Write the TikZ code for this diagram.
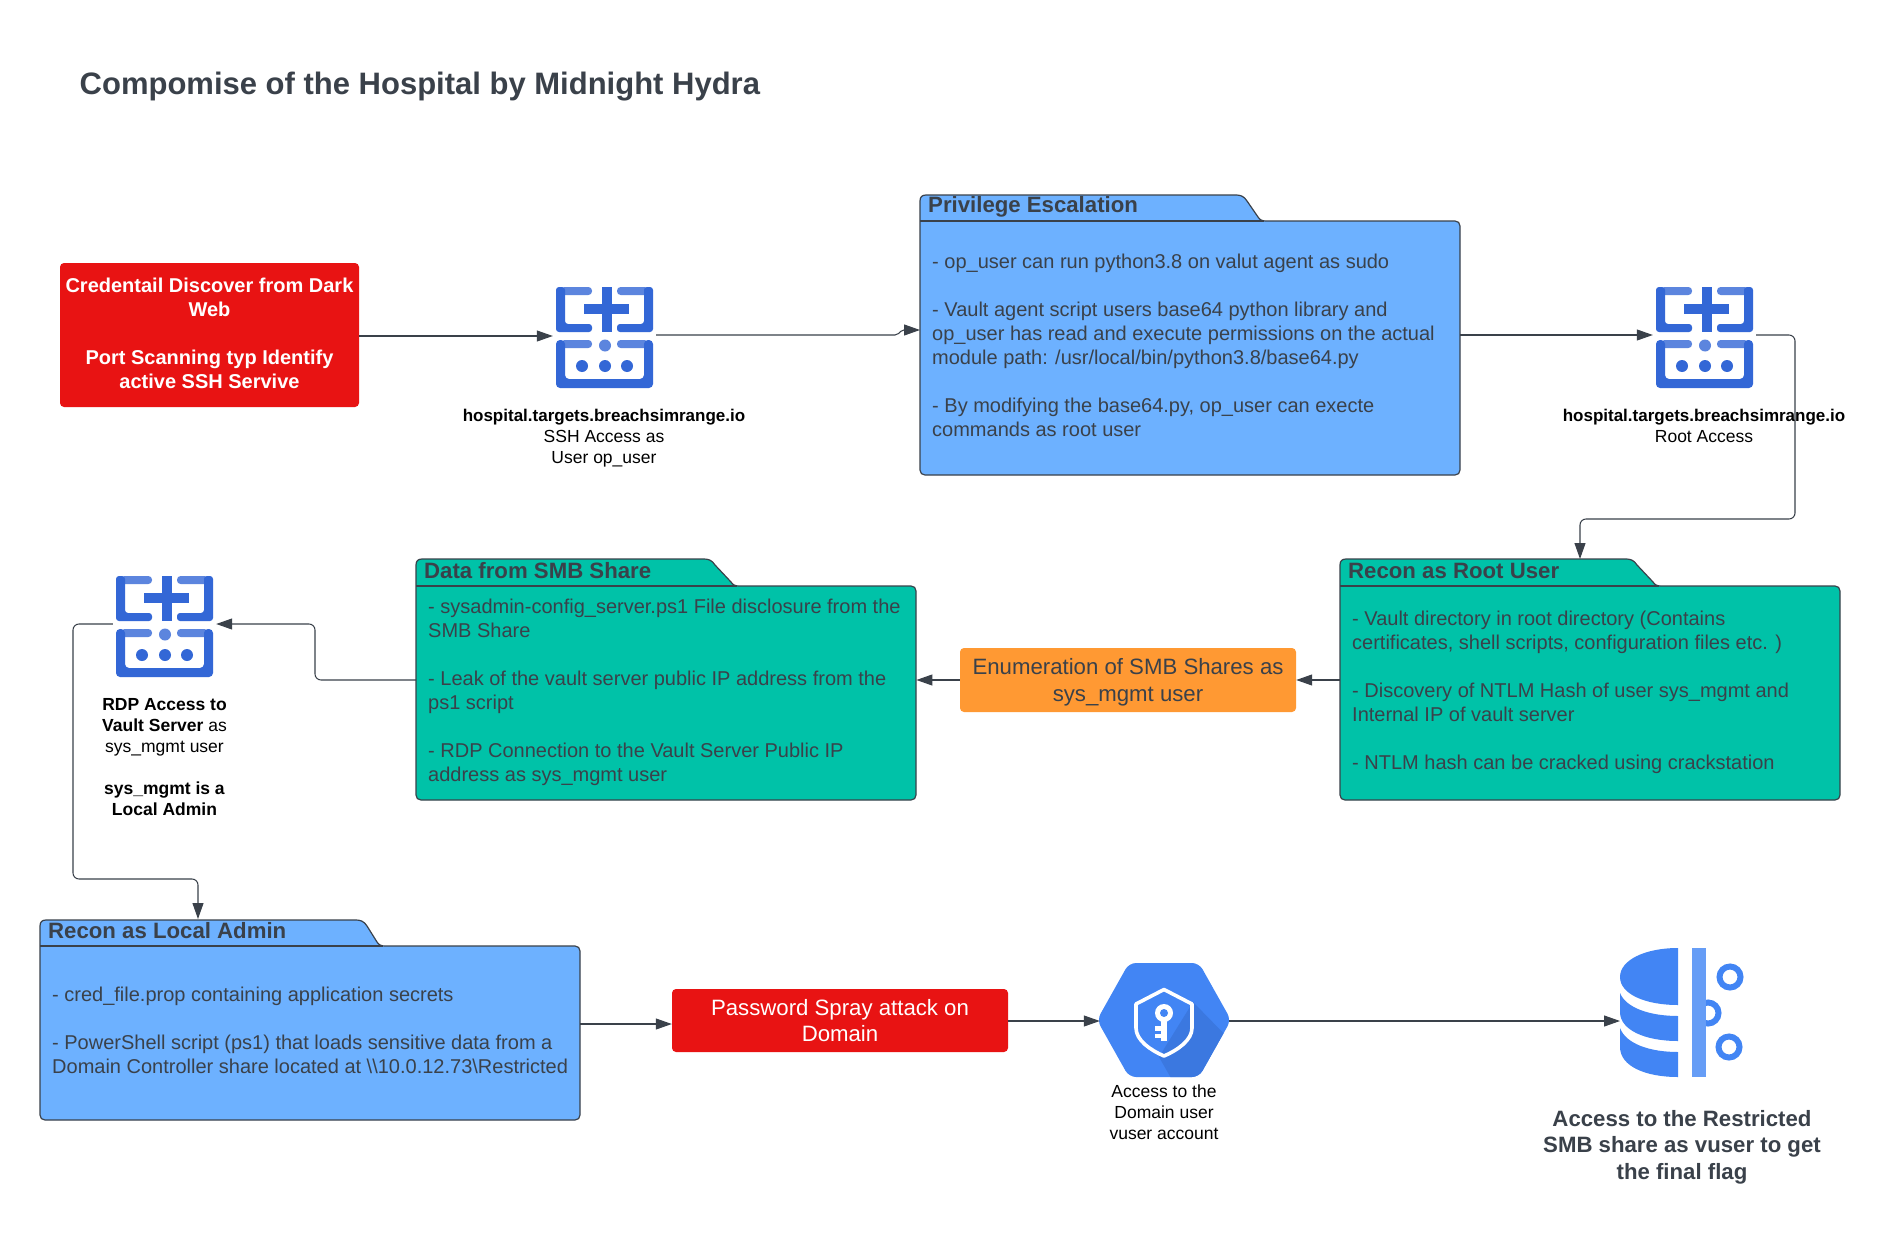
\documentclass[tikz,border=0pt]{standalone}
\usepackage{fontspec}
\setmainfont{Liberation Sans}
\usetikzlibrary{arrows.meta}
\definecolor{ink}{HTML}{3A414A}
\definecolor{fblue}{HTML}{6DB1FF}
\definecolor{fgreen}{HTML}{00C2A8}
\definecolor{fred}{HTML}{E81313}
\definecolor{forange}{HTML}{FF9933}
\definecolor{srv}{HTML}{3367D6}
\definecolor{srvl}{HTML}{5C85DE}
\definecolor{gblue}{HTML}{4285F4}
\definecolor{gdark}{HTML}{3B78E0}
\definecolor{glight}{HTML}{669DF6}
\newcommand{\fsz}[2]{\fontsize{#1}{#2}\selectfont}
% folder: x1, tabtop, bodytop, x2, bottom, tab start, tab end, fill
\newcommand{\folderbox}[8]{%
  \draw[ink,line width=1.2pt,fill=#8,line join=round]
    (#1,#3+0) -- (#1,#2+6) .. controls (#1,#2+2) and (#1+2,#2) .. (#1+6,#2)
    -- (#6-6,#2) .. controls (#6-2,#2) and (#6+2,#2+1) .. (#6+5,#2+6)
    -- (#7-6,#3-4) .. controls (#7-4,#3-1) and (#7-2,#3) .. (#7+2,#3)
    -- (#4-5,#3) .. controls (#4-2,#3) and (#4,#3+2) .. (#4,#3+5)
    -- (#4,#5-5) .. controls (#4,#5-2) and (#4-2,#5) .. (#4-5,#5)
    -- (#1+5,#5) .. controls (#1+2,#5) and (#1,#5-2) .. (#1,#5-5) -- cycle;
  \draw[ink,line width=1.2pt] (#1,#3) -- (#7,#3);}
\newcommand{\srvicon}[1]{%
  \begin{scope}[shift={(#1)}]
    \fill[srvl,rounded corners=3.6pt] (5,0) rectangle (36,8);
    \fill[srvl,rounded corners=3.6pt] (61,0) rectangle (92,8);
    \fill[srvl,rounded corners=3.6pt] (5,53) rectangle (36,61);
    \fill[srvl,rounded corners=3.6pt] (61,53) rectangle (92,61);
    \fill[srv,rounded corners=3pt] (9,0) -- (0,0) -- (0,45) -- (36,45) -- (36,37) -- (9,37) -- cycle;
    \fill[srv,rounded corners=3pt] (88,0) -- (97,0) -- (97,45) -- (61,45) -- (61,37) -- (88,37) -- cycle;
    \fill[srv] (28,17) rectangle (73,27);
    \fill[srv] (46,0) rectangle (55.5,44.5);
    \fill[srv,rounded corners=4pt] (9,53) -- (0,53) -- (0,101) -- (97,101) -- (97,53) -- (88,53) -- (88,92) -- (9,92) -- cycle;
    \fill[srvl] (49,58.5) circle (6);
    \fill[srv] (26,79) circle (6);
    \fill[srv] (49,79) circle (6);
    \fill[srv] (71,79) circle (6);
  \end{scope}}
\tikzset{
  conn/.style={ink,line width=1.05pt,rounded corners=6pt,-{Triangle[length=16pt,width=11pt]}},
  foldertitle/.style={anchor=west,inner sep=0pt,text=ink,font=\fsz{22.2}{26}\bfseries},
  bodytext/.style={anchor=north west,inner sep=0pt,text=ink,align=left,font=\fsz{20}{24}},
  iconlabel/.style={anchor=north,inner sep=0pt,text=black,align=center,font=\fsz{17.5}{21}},
  procbox/.style={rounded corners=4pt,inner sep=0pt,align=center,font=\fsz{22.2}{26.5}},
}
\begin{document}
\begin{tikzpicture}[x=1pt,y=-1pt]
\useasboundingbox (0,0) rectangle (1882,1236);
\fill[white] (0,0) rectangle (1882,1236);

\node[anchor=west,inner sep=0pt,text=ink,font=\fsz{31}{36}\bfseries] (title) at (79.5,86.5) {Compomise of the Hospital by Midnight Hydra};

% red start box
\node[rounded corners=4pt,fill=fred,minimum width=299pt,minimum height=144pt,inner sep=0pt] (cred) at (209.5,335) {};
\node[inner sep=0pt,text=white,align=center,font=\fsz{20}{24}\bfseries] (credt) at (209.5,333.5)
  {Credentail Discover from Dark\\Web\\[24pt]Port Scanning typ Identify\\active SSH Servive};

% folders
\folderbox{920}{195}{221}{1460}{475}{1242}{1264}{fblue}
\node[minimum width=540pt,minimum height=254pt,inner sep=0pt,anchor=north west] (priv) at (920,221) {};
\node[foldertitle] (privt) at (928,207) {Privilege Escalation};
\node[bodytext] (privb) at (932,251) {\strut- op\_user can run python3.8 on valut agent as sudo\\[24pt]- Vault agent script users base64 python library and\\op\_user has read and execute permissions on the actual\\module path: /usr/local/bin/python3.8/base64.py\\[24pt]- By modifying the base64.py, op\_user can execte\\commands as root user};

\folderbox{1340}{559}{586}{1840}{800}{1632}{1659}{fgreen}
\node[minimum width=500pt,minimum height=214pt,inner sep=0pt,anchor=north west] (rroot) at (1340,586) {};
\node[foldertitle] (rroott) at (1348,571) {Recon as Root User};
\coordinate (rroottab) at (1580,559);
\node[bodytext] (rrootb) at (1352,608) {\strut- Vault directory in root directory (Contains\\certificates, shell scripts, configuration files etc. )\\[24pt]- Discovery of NTLM Hash of user sys\_mgmt and\\Internal IP of vault server\\[24pt]- NTLM hash can be cracked using crackstation};

\folderbox{416}{559}{586}{916}{800}{710}{737}{fgreen}
\node[minimum width=500pt,minimum height=214pt,inner sep=0pt,anchor=north west] (data) at (416,586) {};
\node[foldertitle] (datat) at (424,571) {Data from SMB Share};
\node[bodytext] (datab) at (428,596) {\strut- sysadmin-config\_server.ps1 File disclosure from the\\SMB Share\\[24pt]- Leak of the vault server public IP address from the\\ps1 script\\[24pt]- RDP Connection to the Vault Server Public IP\\address as sys\_mgmt user};

\folderbox{40}{920}{946}{580}{1120}{362}{383}{fblue}
\node[minimum width=540pt,minimum height=174pt,inner sep=0pt,anchor=north west] (rlocal) at (40,946) {};
\node[foldertitle] (rlocalt) at (48,931) {Recon as Local Admin};
\coordinate (rlocaltab) at (198,919);
\node[bodytext] (rlocalb) at (52,984) {\strut- cred\_file.prop containing application secrets\\[24pt]- PowerShell script (ps1) that loads sensitive data from a\\Domain Controller share located at \textbackslash\textbackslash 10.0.12.73\textbackslash Restricted};

% process boxes
\node[rounded corners=4pt,fill=forange,minimum width=336pt,minimum height=64pt,inner sep=0pt] (enum) at (1128,680) {};
\node[procbox,text=ink] (enumt) at (1128,682.5) {Enumeration of SMB Shares as\\sys\_mgmt user};
\node[procbox,fill=fred,text=white,minimum width=336pt,minimum height=63pt] (spray) at (840,1020.5) {Password Spray attack on\\Domain};

% server icons
\srvicon{556,287}
\node[minimum width=103pt,minimum height=101pt,inner sep=0pt] (srv1) at (604.5,337.5) {};
\srvicon{1656,287}
\node[minimum width=103pt,minimum height=101pt,inner sep=0pt] (srv2) at (1704.5,337.5) {};
\srvicon{116,576}
\node[minimum width=103pt,minimum height=101pt,inner sep=0pt] (srv3) at (164.5,626.5) {};

\node[iconlabel] (srv1l) at (604,409) {{\fontsize{17}{21}\selectfont\textbf{hospital.targets.breachsimrange.io}}\\SSH Access as\\User op\_user};
\node[iconlabel] (srv2l) at (1704,409) {{\fontsize{17}{21}\selectfont\textbf{hospital.targets.breachsimrange.io}}\\Root Access};
\node[iconlabel] (srv3l) at (164.5,698) {\textbf{RDP Access to}\\\textbf{Vault Server} as\\sys\_mgmt user\\[21pt]\textbf{sys\_mgmt is a}\\\textbf{Local Admin}};

% hexagon icon
\begin{scope}
  \path[clip,rounded corners=7pt] (1129,963) -- (1199,963) -- (1231,1020) -- (1199,1077) -- (1129,1077) -- (1097,1020) -- cycle;
  \fill[gblue] (1090,955) rectangle (1240,1085);
  \fill[gdark] (1193,1002) -- (1232,1042) -- (1232,1085) -- (1175,1085) -- (1159,1057) -- cycle;
\end{scope}
\node[minimum width=129pt,minimum height=114pt,inner sep=0pt] (hex) at (1164.5,1020) {};
\draw[white,line width=3.6pt,line join=round] (1164,989.5) -- (1136,1004) -- (1136,1028)
  .. controls (1136,1040) and (1150,1050) .. (1164,1056)
  .. controls (1178,1050) and (1192,1040) .. (1192,1028) -- (1192,1004) -- cycle;
\fill[white] (1164,1013) circle (9);
\fill[gblue] (1164,1013) circle (4);
\fill[white] (1160.5,1020) rectangle (1167,1041);
\fill[white] (1155,1026) rectangle (1161,1031);
\fill[white] (1155,1034) rectangle (1161,1038);

% database icon
\fill[gblue] (1678,948) .. controls (1645,948) and (1620,960) .. (1620,977) .. controls (1620,994) and (1645,1005) .. (1678,1005) -- cycle;
\fill[gblue] (1620,993) .. controls (1626,1008) and (1650,1016) .. (1678,1016) -- (1678,1041) .. controls (1645,1041) and (1620,1030) .. (1620,1012) -- cycle;
\fill[gblue] (1620,1028) .. controls (1626,1044) and (1650,1052) .. (1678,1052) -- (1678,1077) .. controls (1645,1077) and (1620,1066) .. (1620,1047) -- cycle;
\draw[gblue,line width=6pt] (1708,1013) circle (10.5);
\fill[glight] (1692,948) rectangle (1706,1077);
\draw[gblue,line width=6pt] (1730,977) circle (10.5);
\draw[gblue,line width=6pt] (1729,1047) circle (10.5);
\node[minimum width=110pt,minimum height=129pt,inner sep=0pt,anchor=west] (db) at (1620,1012.5) {};

\node[iconlabel] (hexl) at (1164,1085) {Access to the\\Domain user\\vuser account};
\node[anchor=north,inner sep=0pt,text=ink,align=center,font=\fsz{22.2}{26.5}\bfseries] (dbl) at (1682,1110) {Access to the Restricted\\SMB share as vuser to get\\the final flag};

% connectors
\draw[conn] (cred.east |- 0,336) -- (srv1.west |- 0,336);
\draw[conn,rounded corners=2pt] (srv1.east |- 0,335) -- (897,335) -- (902,330) -- (priv.west |- 0,330);
\draw[conn] (priv.east |- 0,335) -- (srv2.west |- 0,335);
\draw[conn] (srv2.east |- 0,335) -- (1795,335) -- (1795,519) -- (1580,519) -- (rroottab);
\draw[conn] (rroot.west |- 0,680) -- (enum.east |- 0,680);
\draw[conn] (enum.west |- 0,680) -- (data.east |- 0,680);
\draw[conn] (data.west |- 0,680) -- (315,680) -- (315,624) -- (srv3.east |- 0,624);
\draw[conn] (srv3.west |- 0,624) -- (73,624) -- (73,879) -- (198,879) -- (rlocaltab);
\draw[conn] (rlocal.east |- 0,1024) -- (spray.west |- 0,1024);
\draw[conn] (spray.east |- 0,1021) -- (hex.west |- 0,1021);
\draw[conn] (hex.east |- 0,1021) -- (db.west |- 0,1021);
\end{tikzpicture}
\end{document}
